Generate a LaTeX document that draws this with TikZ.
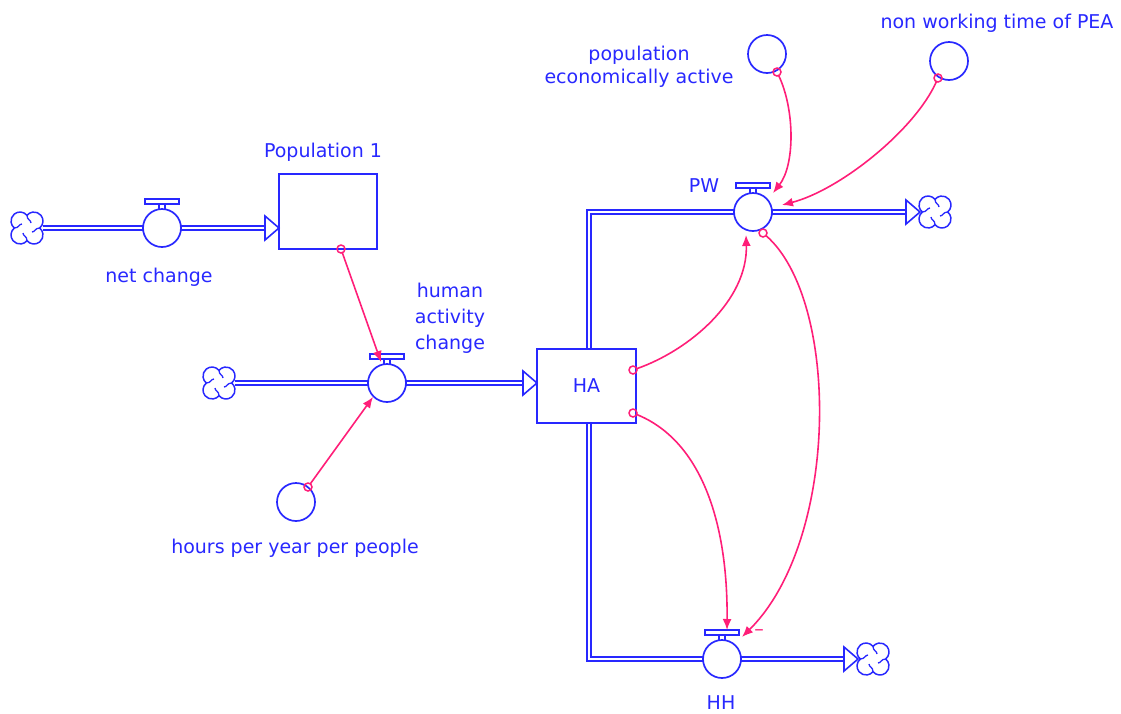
\documentclass[tikz,border=0pt]{standalone}
\usepackage{fontspec}
\setmainfont{DejaVu Sans}
\usetikzlibrary{arrows.meta,calc}
\definecolor{sblue}{RGB}{40,40,255}
\definecolor{spink}{RGB}{255,30,120}
\pgfdeclarelayer{background}
\pgfsetlayers{background,main}
\tikzset{
  stcloud/.pic={
    \draw[sblue, line width=1.5pt, fill=white]
      (0,12.66) arc[start angle=141.04, end angle=-51.04, radius=9]
      arc[start angle=51.04, end angle=-141.04, radius=9]
      arc[start angle=-38.96, end angle=-231.04, radius=9]
      arc[start angle=231.04, end angle=38.96, radius=9] -- cycle;
    \foreach \a in {0,90,180,270}
      \draw[sblue, line width=1.3pt, rotate=\a] (0,12.66) .. controls (0,8) and (-4,8) .. (-4,5);
  }
}
\newcommand{\vhandle}[1]{%
  \draw[sblue, line width=1.5pt, fill=white] ($(#1.center)+(-17,-29)$) rectangle ($(#1.center)+(17,-24)$);
  \draw[sblue, line width=1.5pt] ($(#1.center)+(-3,-24)$) -- ($(#1.center)+(-3,-19)$)
    ($(#1.center)+(3,-24)$) -- ($(#1.center)+(3,-19)$);
}
\newcommand{\fhead}[1]{%
  \draw[sblue, line width=1.6pt, fill=white, line join=miter]
    ($(#1)+(-14,-12)$) -- (#1) -- ($(#1)+(-14,12)$) -- cycle;
}
\begin{document}
\begin{tikzpicture}[x=1pt,y=-1pt,
  every node/.style={inner sep=0pt, outer sep=0pt},
  lbl/.style={text=sblue, font=\fontsize{19}{24}\selectfont, anchor=base},
  stock/.style={draw=sblue, line width=1.7pt, fill=white, minimum width=98pt, minimum height=75pt,
    text=sblue, font=\fontsize{19}{24}\selectfont},
  valve/.style={circle, draw=sblue, line width=1.7pt, fill=white, minimum size=38pt},
  aux/.style={circle, draw=sblue, line width=1.7pt, fill=white, minimum size=38pt},
  pipe/.style={draw=sblue, line width=1.5pt, double=white, double distance=2.4pt},
  pin/.style={circle, draw=spink, line width=1.5pt, minimum size=8pt},
  link/.style={draw=spink, line width=1.6pt, -{Latex[length=11pt,width=9pt]}},
]
\useasboundingbox (0,0) rectangle (1121,713);

% clouds
\coordinate (c1) at (27,228);
\coordinate (c2) at (219,383);
\coordinate (c3) at (935,212);
\coordinate (c4) at (873,659);
\pic at (c1) {stcloud};
\pic at (c2) {stcloud};
\pic at (c3) {stcloud};
\pic at (c4) {stcloud};

% stocks
\node[stock] (pop) at (328,211.5) {};
\node[stock, minimum width=99pt, minimum height=74pt] (HA) at (586.5,386) {HA};

% valves
\node[valve] (nc) at (162,228) {};
\node[valve] (hac) at (387,383) {};
\node[valve] (pw) at (753,212) {};
\node[valve] (hh) at (722,659) {};
\vhandle{nc}
\vhandle{hac}
\vhandle{pw}
\vhandle{hh}

% auxiliaries
\node[aux] (hpy) at (296,502) {};
\node[aux] (pea) at (767,54) {};
\node[aux] (nwt) at (949,61) {};

% pipes
\coordinate (haN) at ($(HA.north)+(2.5,0)$);
\coordinate (haS) at ($(HA.south)+(2.5,0)$);
\coordinate (popIn) at (pop.west |- nc.east);
\coordinate (haIn) at (HA.west |- hac.east);
\coordinate (c3In) at ($(c3)+(-15,0)$);
\coordinate (c4In) at ($(c4)+(-15,0)$);
\begin{pgfonlayer}{background}
\draw[pipe] ($(c1)+(16,0)$) -- (nc.west);
\draw[pipe] (nc.east) -- ($(popIn)+(-14,0)$);
\draw[pipe] ($(c2)+(16,0)$) -- (hac.west);
\draw[pipe] (hac.east) -- ($(haIn)+(-14,0)$);
\draw[pipe] (haN) |- (pw.west);
\draw[pipe] (pw.east) -- ($(c3In)+(-14,0)$);
\draw[pipe] (haS) |- (hh.west);
\draw[pipe] (hh.east) -- ($(c4In)+(-14,0)$);
\end{pgfonlayer}
\fhead{popIn}
\fhead{haIn}
\fhead{c3In}
\fhead{c4In}

% labels
\node[lbl] (lpop) at (323,157) {Population 1};
\node[lbl] (lnc) at (159,282) {net change};
\node[lbl, anchor=center, align=center, font=\fontsize{19}{26}\selectfont] (lhac) at (450,318) {human\\activity\\change};
\node[lbl] (lhpy) at (295,553) {hours per year per people};
\node[lbl, anchor=center, align=center, font=\fontsize{19}{23}\selectfont] (lpea) at (639,66.5) {population\\economically active};
\node[lbl] (lnwt) at (997,28) {non working time of PEA};
\node[lbl] (lpw) at (704,192) {PW};
\node[lbl] (lhh) at (721,709) {HH};
\node[text=spink, font=\fontsize{19}{24}\selectfont] (minus) at (759,633) {–};

% connector pins
\node[pin] (p1) at (341,249) {};
\node[pin] (p2) at (308,487) {};
\node[pin] (p3) at (777,72) {};
\node[pin] (p4) at (938,78) {};
\node[pin] (p5) at (633,370) {};
\node[pin] (p6) at (763,233) {};
\node[pin] (p7) at (633,413) {};

% connector tips
\coordinate (t1) at (381,362);
\coordinate (t2) at (373,397);
\coordinate (t3) at (773,193);
\coordinate (t4) at (782,205);
\coordinate (t5) at (746,235);
\coordinate (t6) at (742,637);
\coordinate (t7) at (727,630);

% connectors
\draw[link] (p1) -- (t1);
\draw[link] (p2) -- (t2);
\draw[link] (p3) .. controls (795,110) and (795,165) .. (t3);
\draw[link] (p4) .. controls (915,130) and (840,190) .. (t4);
\draw[link] (p5) .. controls (690,350) and (748,300) .. (t5);
\draw[link] (p6) .. controls (840,300) and (840,540) .. (t6);
\draw[link] (p7) .. controls (700,440) and (728,520) .. (t7);
\end{tikzpicture}
\end{document}
